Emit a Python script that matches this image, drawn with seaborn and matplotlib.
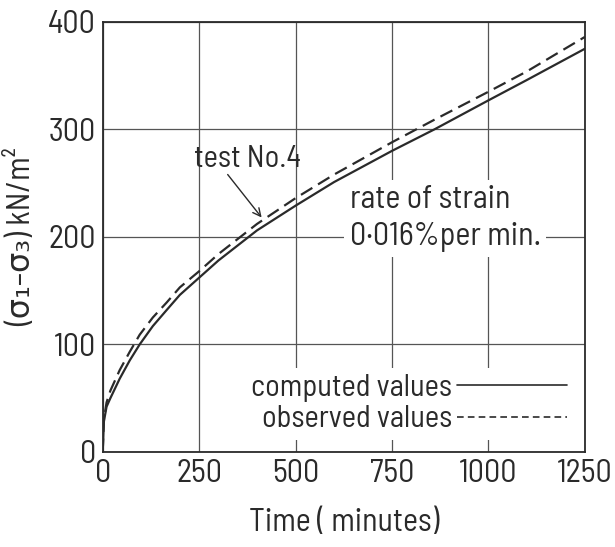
import matplotlib
matplotlib.use("Agg")
import matplotlib.pyplot as plt
import numpy as np
import pandas as pd
import seaborn as sns

# data
time_min = [0, 3, 10, 20, 44, 70, 96, 130, 166, 200, 250, 300, 400, 500, 600, 750, 860, 1000, 1100, 1250]
computed = [0, 28, 42, 50, 68, 85, 100, 117, 132, 146, 162, 178, 206, 229, 251, 280, 300, 327, 346, 375]
observed = [0, 30, 46, 57, 76, 93, 109, 125, 139, 153, 168, 184, 212, 236, 258, 288, 309, 335, 354, 386]
x_ticks = [0, 250, 500, 750, 1000, 1250]
y_ticks = [0, 100, 200, 300, 400]

sns.set_style("whitegrid")
plt.rcParams['font.family'] = ['Barlow Semi Condensed', 'DejaVu Sans']
ink = "#2a2a2a"

df = pd.DataFrame({"time": time_min * 2,
                   "stress": computed + observed,
                   "kind": ["computed values"] * len(time_min) + ["observed values"] * len(time_min)})

fig = plt.figure(figsize=(6.15, 5.47), dpi=100)
ax = fig.add_axes([0.167, 0.174, 0.784, 0.786])

sns.lineplot(data=df, x="time", y="stress", style="kind",
             dashes={"computed values": "", "observed values": (6, 3)},
             color=ink, linewidth=1.6, ax=ax, legend=False)

ax.set_xlim(0, 1250)
ax.set_ylim(0, 400)
ax.set_xticks(x_ticks)
ax.set_yticks(y_ticks)
ax.grid(True, color="#555555", linewidth=0.9)
for s in ax.spines.values():
    s.set_color(ink)
    s.set_linewidth(1.3)
ax.tick_params(length=0, labelsize=23, pad=5, colors=ink)

ax.set_xlabel("Time ( minutes)", fontsize=23, color=ink, labelpad=14)
ax.set_ylabel("(σ₁–σ₃) kN/m²", fontsize=23, color=ink, labelpad=8)

# annotations
ax.text(236, 272, "test No.4", fontsize=22, color=ink, ha="left", va="center")
ax.annotate("", xy=(412, 218), xytext=(324, 258),
            arrowprops=dict(arrowstyle="->", color=ink, lw=1.0,
                            shrinkA=0, shrinkB=0, mutation_scale=14))
ax.text(640, 217, "rate of strain\n0·016%per min.", fontsize=23, color=ink,
        ha="left", va="center", linespacing=1.3,
        bbox=dict(facecolor="white", edgecolor="none", pad=4))

# legend with labels left of the line samples
h1, = ax.plot([], [], color=ink, lw=1.2, label="computed values")
h2, = ax.plot([], [], color=ink, lw=1.2, ls=(0, (4, 2.5)), label="observed values")
leg = ax.legend(handles=[h1, h2], loc="lower right", markerfirst=False, frameon=True,
                fontsize=22, handlelength=3.6, handletextpad=0.15, labelspacing=0.12,
                borderaxespad=0.4, borderpad=0.2, fancybox=False)
leg.get_frame().set_facecolor("white")
leg.get_frame().set_edgecolor("none")
leg.get_frame().set_alpha(1)
for t in leg.get_texts():
    t.set_color(ink)

fig.savefig("out.png", dpi=100, facecolor="white")
